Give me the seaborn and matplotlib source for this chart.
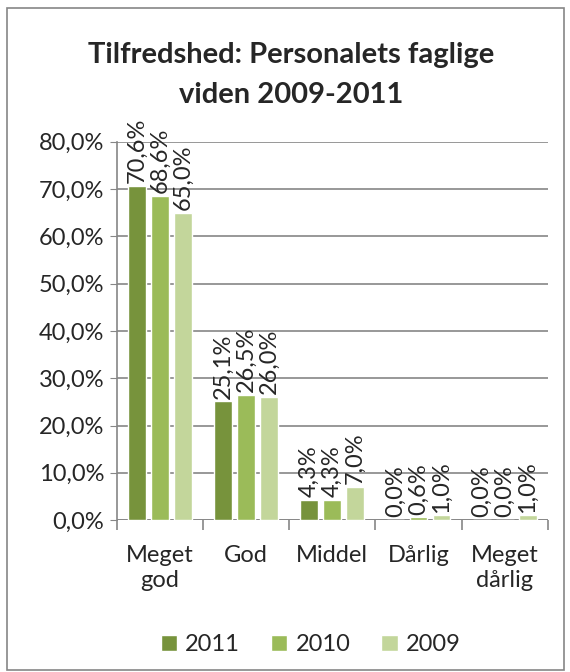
import matplotlib
matplotlib.use("Agg")
import matplotlib.pyplot as plt
from matplotlib.patches import Rectangle
from matplotlib.ticker import FuncFormatter, FixedLocator
import pandas as pd
import seaborn as sns

categories = ["Meget\ngod", "God", "Middel", "Dårlig", "Meget\ndårlig"]
years = ["2011", "2010", "2009"]
values_2011 = [70.6, 25.1, 4.3, 0.0, 0.0]
values_2010 = [68.6, 26.5, 4.3, 0.6, 0.0]
values_2009 = [65.0, 26.0, 7.0, 1.0, 1.0]
colors = ["#77933C", "#9BBB59", "#C3D69B"]


def main():
    df = pd.DataFrame({
        "kategori": categories * 3,
        "aar": [y for y in years for _ in categories],
        "andel": values_2011 + values_2010 + values_2009,
    })

    sns.set_style("white")
    plt.rcParams["font.family"] = ["Lato", "DejaVu Sans"]

    fig = plt.figure(figsize=(5.7, 6.72), dpi=100)
    ax = fig.add_axes([0.205, 0.226, 0.756, 0.563])

    sns.barplot(data=df, x="kategori", y="andel", hue="aar", hue_order=years,
                palette=colors, width=0.8, gap=0.22, saturation=1,
                ax=ax, legend=True)

    # værdier over søjlerne
    for cont in ax.containers:
        labels = [f"{v:.1f}%".replace(".", ",") for v in cont.datavalues]
        ax.bar_label(cont, labels=labels, rotation=90, padding=2, fontsize=17)

    ax.set_ylim(0, 80)
    ax.set_xlim(-0.5, 4.5)
    ax.set_yticks(range(0, 81, 10))
    ax.yaxis.set_major_formatter(FuncFormatter(lambda v, p: f"{v:.1f}%".replace(".", ",")))
    ax.yaxis.grid(True, color="#868686", linewidth=1.2)
    ax.set_axisbelow(True)
    ax.set_xlabel("")
    ax.set_ylabel("")

    for side in ["top", "right", "bottom"]:
        ax.spines[side].set_visible(False)
    ax.spines["left"].set_color("#868686")
    ax.spines["left"].set_linewidth(1.2)
    ax.axhline(0, color="#868686", linewidth=1.2, zorder=0.5)

    ax.tick_params(axis="y", left=True, length=5, color="#868686", labelsize=17, pad=4)
    ax.tick_params(axis="x", which="major", length=0, labelsize=17, pad=18)
    ax.xaxis.set_minor_locator(FixedLocator([-0.5, 0.5, 1.5, 2.5, 3.5, 4.5]))
    ax.tick_params(axis="x", which="minor", bottom=True, length=7, color="#868686", width=1.2)

    ax.legend(loc="center", bbox_to_anchor=(0.45, -0.33), ncol=3,
              frameon=False, fontsize=17, handlelength=0.7, handleheight=0.7,
              columnspacing=1.3, handletextpad=0.35)

    fig.text(0.51, 0.888, "Tilfredshed: Personalets faglige\nviden 2009-2011",
             ha="center", va="center", fontsize=21, fontweight="bold",
             linespacing=1.65)

    fig.patches.append(Rectangle((0.012, 0.003), 0.978, 0.985, transform=fig.transFigure,
                                 fill=False, edgecolor="#868686", linewidth=1.2))

    fig.savefig("out.png", dpi=100)
    plt.close(fig)


if __name__ == "__main__":
    main()
